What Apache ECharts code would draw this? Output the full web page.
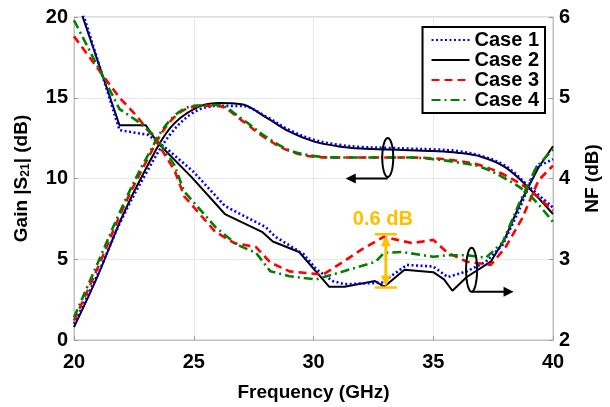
<!DOCTYPE html>
<html><head><meta charset="utf-8">
<script src="https://cdn.jsdelivr.net/npm/echarts@6/dist/echarts.min.js"></script>
<style>html,body{margin:0;padding:0;background:#fff}#c{width:610px;height:407px}</style>
</head><body><div id="c"></div>
<script>
// ---------- data ----------
const caseNames = ['Case 1', 'Case 2', 'Case 3', 'Case 4'];
const xTicks = [20, 25, 30, 35, 40];
const gainTicks = [0, 5, 10, 15, 20];
const nfTicks = [2, 3, 4, 5, 6];

// Gain |S21| (dB), left axis
const gainFreq  = [20,21,22,23,24,25,26,27,28,29,30,31,32,33,34,35,36,37,38,39,40];
const gainCase1 = [1.0,4.1,7.5,10.3,12.7,14.1,14.5,14.5,13.85,13.0,12.4,12.1,11.95,11.9,11.85,11.8,11.7,11.4,10.8,9.5,8.2];
const gainCase2 = [0.8,4.0,7.6,10.6,13.1,14.3,14.67,14.6,13.8,12.9,12.3,12.0,11.85,11.8,11.75,11.7,11.6,11.35,10.7,9.4,7.8];
const gainCase3 = [1.2,4.5,8.0,11.0,13.5,14.45,14.5,13.6,12.5,11.7,11.35,11.3,11.3,11.3,11.3,11.25,11.1,10.8,10.2,9.3,8.0];
const gainCase4 = [1.4,4.8,8.2,11.2,13.6,14.5,14.55,13.7,12.6,11.75,11.4,11.3,11.3,11.3,11.3,11.2,11.0,10.7,10.0,9.0,7.3];

// NF (dB), right axis
const nfFreqCase1 = [20,21.9,23.1,23.95,25.0,26.3,27.2,28.0,28.4,29.6,30.1,30.8,31.3,32.85,33.9,35.0,35.6,36.4,37.2,37.9,38.6,39.3,40];
const nfCase1     = [6.4,4.6,4.54,4.35,4.08,3.66,3.52,3.4,3.28,3.06,2.88,2.73,2.69,2.71,2.93,2.91,2.78,2.85,2.97,3.18,3.62,4.14,4.24];
const nfFreqCase2 = [20,21.9,23.0,23.5,24.9,26.3,27.85,28.3,29.4,30.1,30.65,31.3,32.57,32.95,33.8,35.0,35.45,35.8,36.4,37.4,38.0,38.7,39.4,40];
const nfCase2     = [6.32,4.66,4.66,4.44,4.02,3.56,3.34,3.22,3.09,2.85,2.66,2.66,2.73,2.66,2.87,2.84,2.75,2.61,2.78,2.97,3.26,3.74,4.14,4.4];
const nfFreqCase3 = [20,21.9,22.6,23.4,24.2,24.6,25.9,26.7,27.6,28.2,29.0,30.4,31.2,32.0,32.95,33.5,34.1,35.0,35.6,36.4,37.4,38.0,38.7,39.4,40];
const nfCase3     = [5.76,5.0,4.78,4.48,4.1,3.78,3.34,3.2,3.15,2.96,2.85,2.81,2.96,3.12,3.28,3.24,3.2,3.24,3.08,2.97,2.93,3.14,3.5,3.98,4.16];
const nfFreqCase4 = [20,21.9,22.6,23.4,24.2,24.6,25.9,26.8,27.6,28.2,29.0,30.1,30.8,32.6,32.95,33.7,35.0,35.6,36.4,37.2,37.9,38.6,39.3,40];
const nfCase4     = [5.96,4.86,4.72,4.52,4.16,3.84,3.4,3.18,3.08,2.85,2.79,2.75,2.81,2.97,3.08,3.09,3.03,3.05,3.05,3.02,3.21,3.7,4.14,4.36];

// annotation anchors (data units)
const gainMarker = { freq: 33.1, value: 11.3 };
const nfMarker = { freq: 36.6, value: 2.87 };
const nfGap = { freq: 33.0, top: 3.31, bottom: 2.65, label: '0.6 dB' };

// ---------- styles ----------
const FONT = '"Liberation Sans", Arial, sans-serif';
const colors = ['#0000ff', '#000000', '#ff0000', '#008000'];
const dashes = [[2, 2.5], 'solid', [8, 5], [9, 4, 2, 4]];
const widths = [2.6, 2, 2.6, 2.6];

const gainSets = [gainCase1, gainCase2, gainCase3, gainCase4];
const nfFreqs = [nfFreqCase1, nfFreqCase2, nfFreqCase3, nfFreqCase4];
const nfSets = [nfCase1, nfCase2, nfCase3, nfCase4];

const series = [];
[1, 0, 2, 3].forEach(function (i) {
  series.push({
    name: caseNames[i], type: 'line', yAxisIndex: 0, symbol: 'none', smooth: 0.35,
    data: gainFreq.map(function (f, k) { return [f, gainSets[i][k]]; }),
    lineStyle: { color: colors[i], width: widths[i], type: dashes[i] },
    itemStyle: { color: colors[i] }, z: 3
  });
  series.push({
    name: caseNames[i], type: 'line', yAxisIndex: 1, symbol: 'none',
    data: nfFreqs[i].map(function (f, k) { return [f, nfSets[i][k]]; }),
    lineStyle: { color: colors[i], width: widths[i], type: dashes[i] },
    itemStyle: { color: colors[i] }, z: 3
  });
});

const axisLabel = { fontFamily: FONT, fontSize: 20, fontWeight: 'bold', color: '#000' };
const chart = echarts.init(document.getElementById('c'), null, { renderer: 'canvas' });
chart.setOption({
  animation: false,
  backgroundColor: '#fff',
  grid: { left: 74, right: 49, top: 17, bottom: 60, show: true, borderColor: '#c0c0c0', borderWidth: 1 },
  legend: {
    data: caseNames, orient: 'vertical', right: 65, top: 27,
    itemWidth: 38, itemHeight: 14, itemGap: 0,
    itemStyle: { opacity: 0 },
    backgroundColor: '#fff', borderColor: '#000', borderWidth: 2, borderRadius: 0,
    padding: [3, 6, 3, 8],
    textStyle: { fontFamily: FONT, fontSize: 20, fontWeight: 'bold', color: '#000', lineHeight: 20 }
  },
  xAxis: {
    type: 'value', min: xTicks[0], max: xTicks[xTicks.length - 1], interval: 5,
    name: 'Frequency (GHz)', nameLocation: 'middle', nameGap: 43,
    nameTextStyle: { fontFamily: FONT, fontSize: 19, fontWeight: 'bold', color: '#000' },
    axisLine: { lineStyle: { color: '#c0c0c0' } },
    axisTick: { inside: true, length: 4, lineStyle: { color: '#999' } },
    axisLabel: Object.assign({ margin: 12 }, axisLabel),
    splitLine: { show: true, lineStyle: { color: '#e8e8e8' } }
  },
  yAxis: [{
    type: 'value', min: gainTicks[0], max: gainTicks[gainTicks.length - 1], interval: 5,
    name: 'Gain |S{s|21}| (dB)', nameLocation: 'middle', nameGap: 42, nameRotate: 90,
    nameTextStyle: { fontFamily: FONT, fontSize: 19, fontWeight: 'bold', color: '#000',
      rich: { s: { fontFamily: FONT, fontSize: 12, fontWeight: 'bold', color: '#000', padding: [8, 0, 0, 0] } } },
    axisLine: { show: true, lineStyle: { color: '#c0c0c0' } },
    axisTick: { show: true, inside: true, length: 4, lineStyle: { color: '#999' } },
    axisLabel: Object.assign({ margin: 6 }, axisLabel),
    splitLine: { show: true, lineStyle: { color: '#e8e8e8' } }
  }, {
    type: 'value', min: nfTicks[0], max: nfTicks[nfTicks.length - 1], interval: 1,
    name: 'NF (dB)', nameLocation: 'middle', nameGap: 30, nameRotate: 90,
    nameTextStyle: { fontFamily: FONT, fontSize: 19, fontWeight: 'bold', color: '#000' },
    axisLine: { show: true, lineStyle: { color: '#c0c0c0' } },
    axisTick: { show: true, inside: true, length: 4, lineStyle: { color: '#999' } },
    axisLabel: Object.assign({ margin: 6 }, axisLabel),
    splitLine: { show: false }
  }],
  series: series
});

// ---------- annotations ----------
function toPx(x, y, yi) { return chart.convertToPixel({ xAxisIndex: 0, yAxisIndex: yi }, [x, y]); }
function ellipsePts(cx, cy, rx, ry) {
  const pts = [];
  for (let k = 0; k < 48; k++) { const t = k / 48 * Math.PI * 2; pts.push([cx + rx * Math.cos(t), cy + ry * Math.sin(t)]); }
  return pts;
}
const g = [];
const e1 = toPx(gainMarker.freq, gainMarker.value, 0);
g.push({ type: 'polygon', shape: { points: ellipsePts(e1[0], e1[1], 5.5, 19.5) }, style: { fill: 'none', stroke: '#000', lineWidth: 2 }, z: 10 });
const y1 = e1[1] + 21;
g.push({ type: 'line', shape: { x1: e1[0], y1: y1, x2: e1[0] - 34, y2: y1 }, style: { stroke: '#000', lineWidth: 2 }, z: 10 });
g.push({ type: 'polygon', shape: { points: [[e1[0] - 42, y1], [e1[0] - 32, y1 - 5], [e1[0] - 32, y1 + 5]] }, style: { fill: '#000' }, z: 10 });

const e2 = toPx(nfMarker.freq, nfMarker.value, 1);
g.push({ type: 'polygon', shape: { points: ellipsePts(e2[0], e2[1], 5.5, 22) }, style: { fill: 'none', stroke: '#000', lineWidth: 2 }, z: 10 });
const y2 = e2[1] + 22;
g.push({ type: 'line', shape: { x1: e2[0], y1: y2, x2: e2[0] + 34, y2: y2 }, style: { stroke: '#000', lineWidth: 2 }, z: 10 });
g.push({ type: 'polygon', shape: { points: [[e2[0] + 42, y2], [e2[0] + 32, y2 - 5], [e2[0] + 32, y2 + 5]] }, style: { fill: '#000' }, z: 10 });

const orange = '#ffc000';
const pt = toPx(nfGap.freq, nfGap.top, 1), pb = toPx(nfGap.freq, nfGap.bottom, 1);
const ax = pt[0] + 0.5;
g.push({ type: 'line', shape: { x1: ax - 11, y1: pt[1], x2: ax + 11, y2: pt[1] }, style: { stroke: orange, lineWidth: 2.5 }, z: 11 });
g.push({ type: 'line', shape: { x1: ax - 11, y1: pb[1], x2: ax + 11, y2: pb[1] }, style: { stroke: orange, lineWidth: 2.5 }, z: 11 });
g.push({ type: 'line', shape: { x1: ax, y1: pt[1] + 8, x2: ax, y2: pb[1] - 8 }, style: { stroke: orange, lineWidth: 3 }, z: 11 });
g.push({ type: 'polygon', shape: { points: [[ax, pt[1] + 1], [ax - 5, pt[1] + 12], [ax + 5, pt[1] + 12]] }, style: { fill: orange }, z: 11 });
g.push({ type: 'polygon', shape: { points: [[ax, pb[1] - 1], [ax - 5, pb[1] - 12], [ax + 5, pb[1] - 12]] }, style: { fill: orange }, z: 11 });
g.push({ type: 'text', x: ax - 3, y: pt[1] - 15, style: { text: nfGap.label, fill: orange, font: 'bold 20px ' + FONT, textAlign: 'center', textVerticalAlign: 'middle' }, z: 11 });

chart.setOption({ graphic: g });
</script>
</body></html>
